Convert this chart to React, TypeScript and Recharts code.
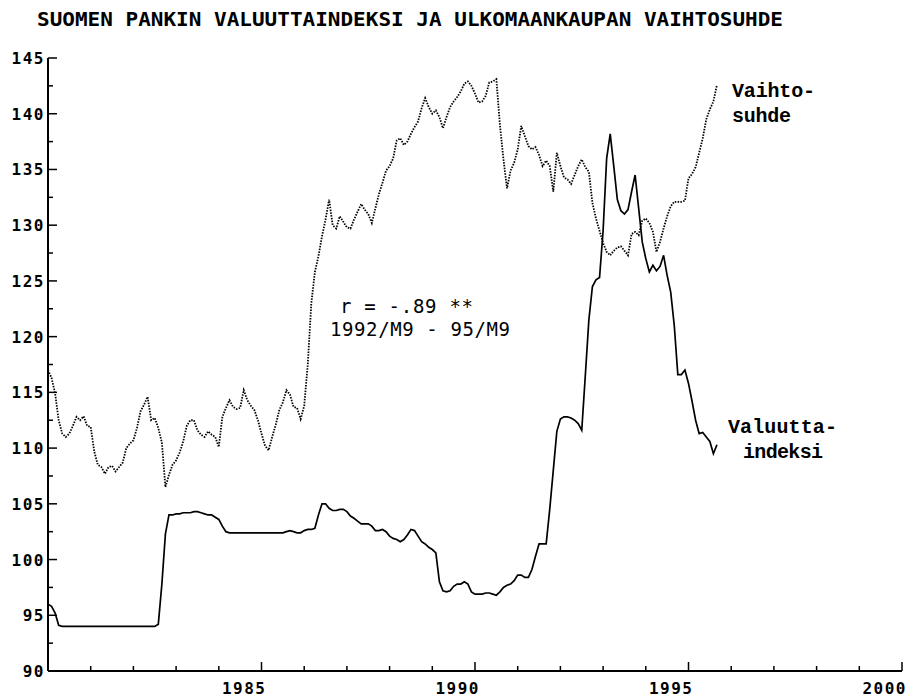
import React from "react";
import { LineChart, Line, XAxis, YAxis } from "recharts";

// monthly values, Jan 1980 .. Sep 1995
const START_YEAR = 1980;

const valuutta = [
  96.0, 95.8, 95.2, 94.1, 94.0, 94.0, 94.0, 94.0, 94.0, 94.0, 94.0, 94.0,
  94.0, 94.0, 94.0, 94.0, 94.0, 94.0, 94.0, 94.0, 94.0, 94.0, 94.0, 94.0,
  94.0, 94.0, 94.0, 94.0, 94.0, 94.0, 94.0, 94.2, 97.8, 102.3, 104.0, 104.0,
  104.1, 104.1, 104.2, 104.2, 104.2, 104.3, 104.3, 104.2, 104.1, 104.0, 104.0, 103.8,
  103.6, 103.0, 102.5, 102.4, 102.4, 102.4, 102.4, 102.4, 102.4, 102.4, 102.4, 102.4,
  102.4, 102.4, 102.4, 102.4, 102.4, 102.4, 102.4, 102.5, 102.6, 102.5, 102.4, 102.4,
  102.6, 102.7, 102.7, 102.8, 104.0, 105.0, 105.0, 104.6, 104.4, 104.4, 104.5, 104.5,
  104.3, 103.9, 103.7, 103.45, 103.2, 103.2, 103.2, 103.0, 102.6, 102.6, 102.7, 102.5,
  102.1, 101.9, 101.8, 101.6, 101.8, 102.2, 102.7, 102.6, 102.1, 101.6, 101.4, 101.1,
  100.9, 100.6, 98.0, 97.2, 97.1, 97.2, 97.6, 97.8, 97.8, 98.0, 97.8, 97.1,
  96.9, 96.9, 96.9, 97.0, 97.0, 96.9, 96.8, 97.1, 97.5, 97.7, 97.8, 98.1,
  98.6, 98.6, 98.4, 98.4, 99.1, 100.3, 101.4, 101.4, 101.4, 104.5, 108.0, 111.5,
  112.6, 112.8, 112.8, 112.7, 112.5, 112.2, 111.6, 116.5, 121.5, 124.5, 125.1, 125.3,
  129.5, 136.0, 138.2, 135.3, 132.3, 131.3, 131.0, 131.4, 133.0, 134.5, 131.5, 128.5,
  127.0, 125.8, 126.4, 125.9, 126.3, 127.3, 125.5, 124.0, 121.0, 116.6, 116.6, 117.0,
  115.8, 114.2, 112.5, 111.3, 111.4, 111.0, 110.6, 109.5, 110.3,
];

const vaihtosuhde = [
  117.0, 116.3, 114.9, 112.5, 111.3, 111.0, 111.3, 112.0, 112.8, 112.5, 112.85, 112.0,
  111.9, 109.7, 108.5, 108.3, 107.7, 108.3, 108.4, 107.9, 108.3, 108.7, 110.0, 110.4,
  110.7, 111.8, 113.3, 113.9, 114.6, 112.5, 112.7, 111.8, 110.5, 106.5, 107.6, 108.5,
  108.9, 109.6, 110.6, 112.0, 112.5, 112.5, 111.6, 111.2, 111.0, 111.5, 111.2, 111.0,
  110.1, 112.8, 113.6, 114.3, 113.7, 113.5, 113.6, 115.2, 114.3, 113.8, 113.4, 112.5,
  111.3, 110.2, 109.8, 111.0, 112.1, 113.4, 114.1, 115.2, 114.8, 113.7, 113.6, 112.6,
  113.8, 117.5, 123.0, 125.8, 127.2, 129.0, 130.5, 132.3, 130.0, 129.7, 130.8, 130.3,
  129.8, 129.7, 130.5, 131.2, 131.9, 131.4, 131.0, 130.2, 131.5, 132.8, 133.8, 134.9,
  135.3, 136.0, 137.6, 137.8, 137.2, 137.5, 138.2, 138.8, 139.3, 140.5, 141.4, 140.6,
  140.0, 140.3, 139.7, 138.7, 139.7, 140.6, 141.1, 141.5, 142.0, 142.7, 142.9, 142.5,
  141.8, 141.0, 141.1, 141.6, 142.8, 142.9, 143.1, 139.0, 135.9, 133.3, 134.9, 135.6,
  136.8, 138.9, 138.0, 137.1, 136.8, 137.0, 136.3, 135.3, 135.8, 135.3, 133.0, 136.5,
  135.3, 134.3, 134.1, 133.7, 134.5, 135.3, 135.9, 135.2, 134.8, 132.0, 130.6, 129.5,
  128.4, 127.6, 127.3, 127.7, 128.0, 128.1, 127.7, 127.3, 129.2, 129.4, 129.1, 130.4,
  130.6, 130.2, 129.4, 127.6, 128.5, 129.7, 130.8, 131.7, 132.1, 132.1, 132.1, 132.2,
  134.2, 134.6, 135.2, 136.5, 137.8, 139.5, 140.4, 141.1, 142.6,
];

const xTicks = [
  1980, 1981, 1982, 1983, 1984, 1985, 1986, 1987, 1988, 1989, 1990,
  1991, 1992, 1993, 1994, 1995, 1996, 1997, 1998, 1999, 2000,
];
const xLabels = [1985, 1990, 1995, 2000];

const yTicks = [
  90, 92.5, 95, 97.5, 100, 102.5, 105, 107.5, 110, 112.5, 115, 117.5,
  120, 122.5, 125, 127.5, 130, 132.5, 135, 137.5, 140, 142.5, 145,
];
const yLabels = [90, 95, 100, 105, 110, 115, 120, 125, 130, 135, 140, 145];

const title = "SUOMEN PANKIN VALUUTTAINDEKSI JA ULKOMAANKAUPAN VAIHTOSUHDE";

const data = valuutta.map((v, i) => ({
  t: START_YEAR + i / 12,
  valuutta: v,
  vaihtosuhde: vaihtosuhde[i],
}));

const axisFont: React.CSSProperties = {
  fontFamily: "'DejaVu Sans Mono', monospace",
  fontWeight: "bold",
  fontSize: 16,
  letterSpacing: 1.5,
};

const noteFont: React.CSSProperties = {
  fontFamily: "'Liberation Mono', monospace",
  fontWeight: "bold",
  fontSize: 20,
};

const midFont: React.CSSProperties = {
  fontFamily: "'DejaVu Sans Mono', monospace",
  fontSize: 19,
};

function XTick(props: any) {
  const { x, y, payload } = props;
  const v = payload.value;
  if (v === 1980) return <g />;
  const major = xLabels.includes(v);
  return (
    <g>
      <line x1={x} y1={y} x2={x} y2={y - (major ? 9 : 5)} stroke="#000" strokeWidth={1.5} />
      {major && (
        <text x={x + 5} y={y + 23} textAnchor="end" fill="#000" style={axisFont}>
          {v}
        </text>
      )}
    </g>
  );
}

function YTick(props: any) {
  const { x, y, payload } = props;
  const v = payload.value;
  const major = yLabels.includes(v);
  return (
    <g>
      {v !== 90 && (
        <line x1={x} y1={y} x2={x + (major ? 9 : 5)} y2={y} stroke="#000" strokeWidth={1.5} />
      )}
      {major && (
        <text x={x - 3} y={y + 6} textAnchor="end" fill="#000" style={axisFont}>
          {v}
        </text>
      )}
    </g>
  );
}

export default function App() {
  return (
    <div style={{ position: "absolute", left: 0, top: 0, width: 906, height: 698, background: "#fff" }}>
      <LineChart
        width={906}
        height={698}
        data={data}
        margin={{ top: 58, right: 4, bottom: 0, left: 0 }}
      >
        <XAxis
          type="number"
          dataKey="t"
          domain={[1980, 2000]}
          ticks={xTicks}
          interval={0}
          height={27}
          tickSize={0}
          tickMargin={0}
          tickLine={false}
          axisLine={{ stroke: "#000", strokeWidth: 2 }}
          tick={(p: any) => <XTick {...p} />}
        />
        <YAxis
          type="number"
          domain={[90, 145]}
          ticks={yTicks}
          interval={0}
          width={48}
          tickSize={0}
          tickMargin={0}
          tickLine={false}
          axisLine={{ stroke: "#000", strokeWidth: 2 }}
          tick={(p: any) => <YTick {...p} />}
        />
        <Line
          type="linear"
          dataKey="vaihtosuhde"
          stroke="#000"
          strokeWidth={1.8}
          strokeDasharray="1.5 1.3"
          dot={false}
          isAnimationActive={false}
        />
        <Line
          type="linear"
          dataKey="valuutta"
          stroke="#000"
          strokeWidth={1.7}
          dot={false}
          isAnimationActive={false}
        />
      </LineChart>
      <svg
        width={906}
        height={698}
        style={{ position: "absolute", left: 0, top: 0, pointerEvents: "none" }}
      >
        <text
          x={37}
          y={26}
          textLength={746}
          lengthAdjust="spacingAndGlyphs"
          fill="#000"
          style={{ fontFamily: "'DejaVu Sans Mono', monospace", fontWeight: "bold", fontSize: 20 }}
        >
          {title}
        </text>
        <text x={732} y={97} textLength={83} fill="#000" style={noteFont}>Vaihto-</text>
        <text x={732} y={122} textLength={59} fill="#000" style={noteFont}>suhde</text>
        <text x={728} y={433} textLength={109} fill="#000" style={noteFont}>Valuutta-</text>
        <text x={743} y={458} textLength={80} fill="#000" style={noteFont}>indeksi</text>
        <text x={340} y={313} textLength={133} fill="#000" style={midFont}>
          r = -.89 **
        </text>
        <text x={330} y={336} textLength={180} fill="#000" style={midFont}>
          1992/M9 - 95/M9
        </text>
      </svg>
    </div>
  );
}
